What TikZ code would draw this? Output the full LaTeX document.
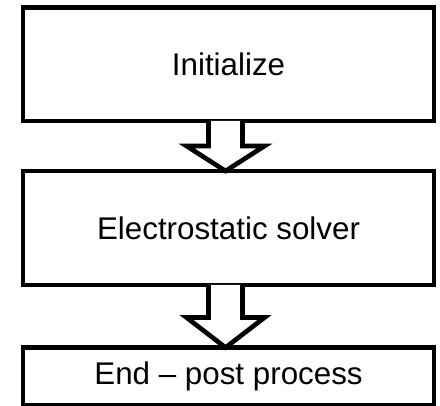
\documentclass[tikz,border=0pt]{standalone}
\usepackage{fontspec}
\setmainfont{Liberation Sans}
\usetikzlibrary{positioning, calc}

\begin{document}
\begin{tikzpicture}[
        node distance=37.5pt,
        stage/.style={rectangle, draw=black, line width=3.5pt, outer sep=0pt, minimum width=308.25pt, text centered, font=\fontsize{23.5}{28}\selectfont},
        hollow/.style={draw=black, fill=white, line width=3.5pt}
    ]
    \useasboundingbox (0,0) rectangle (330pt,-304.5pt);

    % Nodes
    \node (Init) [stage, minimum height=85.1pt] at (171.4pt,-48.2pt) {Initialize};
    \node (Solver) [stage, minimum height=85.5pt, below=of Init] {Electrostatic solver};
    \node (Post) [stage, minimum height=43.1pt, below=46.9pt of Solver] {End -- post process};

    % Arrows
    \draw [hollow] ($(Init.south)+(-15pt,0)$) |- ($(Init.south)+(-31.5pt,-18.75pt)$)
        -- ($(Solver.north)+(-2.25pt,0)$)
        -- ($(Init.south)+(27pt,-18.75pt)$) -| ($(Init.south)+(10.5pt,0)$);
    \draw [hollow] ($(Solver.south)+(-15pt,0)$) |- ($(Solver.south)+(-31.5pt,-24.4pt)$)
        -- ($(Post.north)+(-2.25pt,0)$)
        -- ($(Solver.south)+(27pt,-24.4pt)$) -| ($(Solver.south)+(10.5pt,0)$);

\end{tikzpicture}
\end{document}
